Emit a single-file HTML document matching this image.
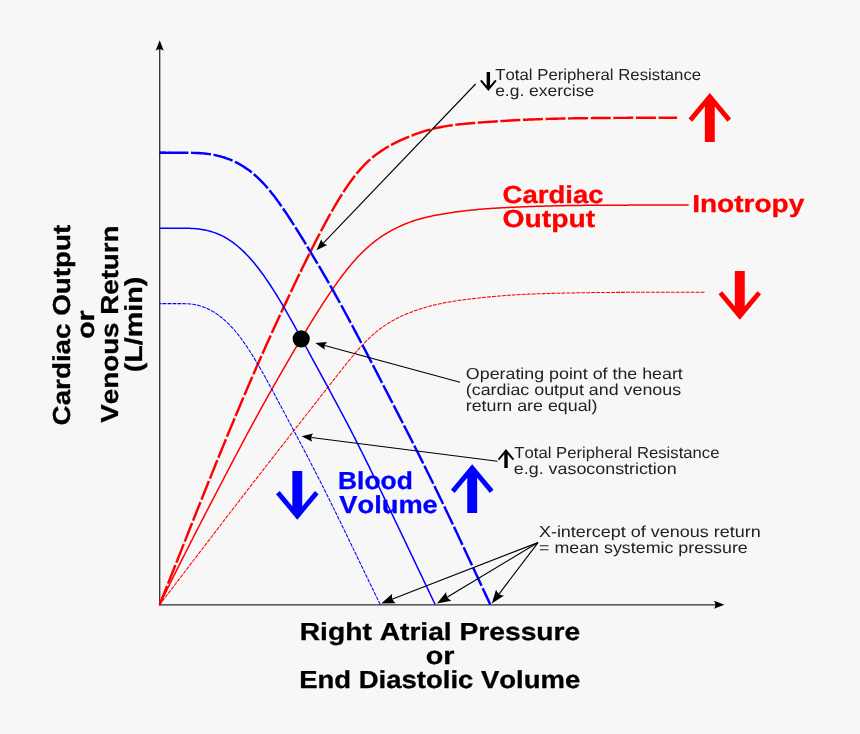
<!DOCTYPE html>
<html>
<head>
<meta charset="utf-8">
<title>Cardiac output and venous return curves</title>
<style>
html, body { margin: 0; padding: 0; background: #f7f7f7; }
body { width: 860px; height: 734px; overflow: hidden; }
svg { display: block; will-change: transform; }
svg text { font-family: "Liberation Sans", sans-serif; font-kerning: none; font-variant-ligatures: none; text-rendering: geometricPrecision; }
</style>
</head>
<body>
<svg width="860" height="734" viewBox="0 0 860 734">
<rect x="0" y="0" width="860" height="734" fill="#f7f7f7"/>
<path d="M159.7,605.45 L159.7,49" stroke="#2e2e2e" stroke-width="1.3" fill="none"/>
<path d="M159.05,604.8 L715.5,604.8" stroke="#2e2e2e" stroke-width="1.3" fill="none"/>
<path d="M159.7,40.2 L163.75,50.7 Q159.7,48 155.65,50.7 Z" fill="#000"/>
<path d="M724.4,604.8 L714.0,608.8 Q716.6,604.8 714.0,600.8 Z" fill="#000"/>
<path d="M159.70,604.60 L161.20,602.64 L162.70,600.68 L164.20,598.72 L165.70,596.76 L167.20,594.80 L168.70,592.84 L170.20,590.88 L171.70,588.92 L173.20,586.96 L174.70,585.00 L176.20,583.04 L177.70,581.08 L179.20,579.12 L180.70,577.16 L182.20,575.20 L183.70,573.24 L185.20,571.28 L186.70,569.32 L188.20,567.36 L189.70,565.40 L191.20,563.44 L192.70,561.48 L194.20,559.52 L195.70,557.56 L197.20,555.60 L198.70,553.64 L200.20,551.68 L201.70,549.72 L203.20,547.76 L204.70,545.80 L206.20,543.84 L207.70,541.88 L209.20,539.92 L210.70,537.96 L212.20,536.00 L213.70,534.04 L215.20,532.08 L216.70,530.12 L218.20,528.16 L219.70,526.21 L221.20,524.25 L222.70,522.29 L224.20,520.34 L225.70,518.38 L227.20,516.43 L228.70,514.48 L230.20,512.53 L231.70,510.57 L233.20,508.62 L234.70,506.67 L236.20,504.73 L237.70,502.78 L239.20,500.83 L240.70,498.89 L242.20,496.94 L243.70,495.00 L245.20,493.06 L246.70,491.12 L248.20,489.18 L249.70,487.24 L251.20,485.30 L252.70,483.37 L254.20,481.43 L255.70,479.50 L257.20,477.57 L258.70,475.64 L260.20,473.71 L261.70,471.78 L263.20,469.86 L264.70,467.93 L266.20,466.01 L267.70,464.08 L269.20,462.16 L270.70,460.24 L272.20,458.32 L273.70,456.40 L275.20,454.49 L276.70,452.57 L278.20,450.65 L279.70,448.74 L281.20,446.82 L282.70,444.91 L284.20,443.00 L285.70,441.08 L287.20,439.17 L288.70,437.25 L290.20,435.34 L291.70,433.43 L293.20,431.51 L294.70,429.60 L296.20,427.69 L297.70,425.77 L299.20,423.86 L300.70,421.95 L302.20,420.03 L303.70,418.12 L305.20,416.21 L306.70,414.29 L308.20,412.38 L309.70,410.46 L311.20,408.55 L312.70,406.64 L314.20,404.72 L315.70,402.81 L317.20,400.90 L318.70,398.98 L320.20,397.07 L321.70,395.16 L323.20,393.24 L324.70,391.33 L326.20,389.41 L327.70,387.50 L329.20,385.59 L330.70,383.67 L332.20,381.76 L333.70,379.85 L335.20,377.93 L336.70,376.02 L338.20,374.11 L339.70,372.21 L341.20,370.30 L342.70,368.41 L344.20,366.52 L345.70,364.64 L347.20,362.78 L348.70,360.92 L350.20,359.09 L351.70,357.26 L353.20,355.47 L354.70,353.69 L356.20,351.94 L357.70,350.22 L359.20,348.53 L360.70,346.87 L362.20,345.24 L363.70,343.65 L365.20,342.10 L366.70,340.59 L368.20,339.11 L369.70,337.67 L371.20,336.28 L372.70,334.94 L374.20,333.62 L375.70,332.35 L377.20,331.13 L378.70,329.94 L380.20,328.79 L381.70,327.68 L383.20,326.62 L384.70,325.58 L386.20,324.59 L387.70,323.62 L389.20,322.69 L390.70,321.80 L392.20,320.93 L393.70,320.09 L395.20,319.29 L396.70,318.51 L398.20,317.75 L399.70,317.01 L401.20,316.31 L402.70,315.62 L404.20,314.95 L405.70,314.31 L407.20,313.68 L408.70,313.08 L410.20,312.49 L411.70,311.91 L413.20,311.36 L414.70,310.82 L416.20,310.30 L417.70,309.79 L419.20,309.30 L420.70,308.82 L422.20,308.35 L423.70,307.90 L425.20,307.46 L426.70,307.04 L428.20,306.62 L429.70,306.22 L431.20,305.83 L432.70,305.45 L434.20,305.09 L435.70,304.73 L437.20,304.39 L438.70,304.06 L440.20,303.73 L441.70,303.42 L443.20,303.12 L444.70,302.83 L446.20,302.54 L447.70,302.27 L449.20,302.00 L450.70,301.74 L452.20,301.49 L453.70,301.25 L455.20,301.02 L456.70,300.79 L458.20,300.56 L459.70,300.35 L461.20,300.14 L462.70,299.93 L464.20,299.73 L465.70,299.53 L467.20,299.34 L468.70,299.16 L470.20,298.97 L471.70,298.79 L473.20,298.62 L474.70,298.44 L476.20,298.27 L477.70,298.10 L479.20,297.94 L480.70,297.78 L482.20,297.62 L483.70,297.46 L485.20,297.31 L486.70,297.15 L488.20,297.00 L489.70,296.86 L491.20,296.71 L492.70,296.57 L494.20,296.43 L495.70,296.30 L497.20,296.17 L498.70,296.04 L500.20,295.91 L501.70,295.79 L503.20,295.67 L504.70,295.55 L506.20,295.44 L507.70,295.33 L509.20,295.22 L510.70,295.12 L512.20,295.02 L513.70,294.92 L515.20,294.83 L516.70,294.74 L518.20,294.65 L519.70,294.57 L521.20,294.49 L522.70,294.41 L524.20,294.34 L525.70,294.26 L527.20,294.20 L528.70,294.13 L530.20,294.07 L531.70,294.01 L533.20,293.95 L534.70,293.90 L536.20,293.84 L537.70,293.79 L539.20,293.74 L540.70,293.70 L542.20,293.65 L543.70,293.61 L545.20,293.56 L546.70,293.52 L548.20,293.48 L549.70,293.44 L551.20,293.40 L552.70,293.37 L554.20,293.33 L555.70,293.29 L557.20,293.26 L558.70,293.22 L560.20,293.19 L561.70,293.16 L563.20,293.12 L564.70,293.09 L566.20,293.06 L567.70,293.03 L569.20,293.00 L570.70,292.97 L572.20,292.94 L573.70,292.91 L575.20,292.88 L576.70,292.85 L578.20,292.82 L579.70,292.80 L581.20,292.77 L582.70,292.75 L584.20,292.72 L585.70,292.70 L587.20,292.68 L588.70,292.65 L590.20,292.63 L591.70,292.61 L593.20,292.59 L594.70,292.57 L596.20,292.56 L597.70,292.54 L599.20,292.52 L600.70,292.51 L602.20,292.49 L603.70,292.48 L605.20,292.47 L606.70,292.45 L608.20,292.44 L609.70,292.43 L611.20,292.42 L612.70,292.41 L614.20,292.40 L615.70,292.39 L617.20,292.39 L618.70,292.38 L620.20,292.37 L621.70,292.37 L623.20,292.36 L624.70,292.35 L626.20,292.35 L627.70,292.34 L629.20,292.34 L630.70,292.33 L632.20,292.33 L633.70,292.32 L635.20,292.32 L636.70,292.31 L638.20,292.31 L639.70,292.31 L641.20,292.30 L642.70,292.30 L644.20,292.29 L645.70,292.29 L647.20,292.28 L648.70,292.28 L650.20,292.28 L651.70,292.27 L653.20,292.27 L654.70,292.26 L656.20,292.26 L657.70,292.25 L659.20,292.25 L660.70,292.25 L662.20,292.24 L663.70,292.24 L665.20,292.24 L666.70,292.23 L668.20,292.23 L669.70,292.22 L671.20,292.22 L672.70,292.22 L674.20,292.22 L675.70,292.21 L677.20,292.21 L678.70,292.21 L680.20,292.21 L681.70,292.21 L683.20,292.21 L684.70,292.20 L686.20,292.20 L687.70,292.20 L689.20,292.20 L690.70,292.20 L692.20,292.20 L693.70,292.20 L695.20,292.20 L696.70,292.20 L698.20,292.20 L699.70,292.20 L701.20,292.20 L702.70,292.20 L704.20,292.20 L704.50,292.20" fill="none" stroke="#ff0000" stroke-width="1.05" stroke-linejoin="round" stroke-dasharray="3.9,1.07" stroke-dashoffset="-4.14"/>
<path d="M159.70,604.60 L161.20,601.52 L162.70,598.46 L164.20,595.39 L165.70,592.34 L167.20,589.29 L168.70,586.25 L170.20,583.21 L171.70,580.18 L173.20,577.17 L174.70,574.15 L176.20,571.14 L177.70,568.14 L179.20,565.15 L180.70,562.16 L182.20,559.18 L183.70,556.21 L185.20,553.24 L186.70,550.28 L188.20,547.32 L189.70,544.37 L191.20,541.43 L192.70,538.49 L194.20,535.56 L195.70,532.63 L197.20,529.70 L198.70,526.78 L200.20,523.87 L201.70,520.96 L203.20,518.05 L204.70,515.15 L206.20,512.25 L207.70,509.35 L209.20,506.45 L210.70,503.56 L212.20,500.67 L213.70,497.78 L215.20,494.90 L216.70,492.01 L218.20,489.13 L219.70,486.25 L221.20,483.37 L222.70,480.50 L224.20,477.62 L225.70,474.75 L227.20,471.88 L228.70,469.02 L230.20,466.16 L231.70,463.30 L233.20,460.44 L234.70,457.59 L236.20,454.75 L237.70,451.91 L239.20,449.07 L240.70,446.24 L242.20,443.42 L243.70,440.60 L245.20,437.79 L246.70,434.99 L248.20,432.20 L249.70,429.41 L251.20,426.63 L252.70,423.86 L254.20,421.10 L255.70,418.34 L257.20,415.60 L258.70,412.86 L260.20,410.13 L261.70,407.41 L263.20,404.70 L264.70,402.00 L266.20,399.31 L267.70,396.62 L269.20,393.95 L270.70,391.28 L272.20,388.62 L273.70,385.97 L275.20,383.33 L276.70,380.69 L278.20,378.06 L279.70,375.44 L281.20,372.83 L282.70,370.23 L284.20,367.63 L285.70,365.04 L287.20,362.45 L288.70,359.88 L290.20,357.31 L291.70,354.74 L293.20,352.19 L294.70,349.64 L296.20,347.10 L297.70,344.56 L299.20,342.04 L300.70,339.52 L302.20,337.01 L303.70,334.51 L305.20,332.02 L306.70,329.54 L308.20,327.07 L309.70,324.61 L311.20,322.17 L312.70,319.74 L314.20,317.32 L315.70,314.91 L317.20,312.52 L318.70,310.15 L320.20,307.79 L321.70,305.45 L323.20,303.13 L324.70,300.83 L326.20,298.55 L327.70,296.28 L329.20,294.05 L330.70,291.84 L332.20,289.64 L333.70,287.47 L335.20,285.34 L336.70,283.22 L338.20,281.14 L339.70,279.08 L341.20,277.06 L342.70,275.06 L344.20,273.10 L345.70,271.17 L347.20,269.28 L348.70,267.43 L350.20,265.61 L351.70,263.82 L353.20,262.09 L354.70,260.39 L356.20,258.72 L357.70,257.09 L359.20,255.52 L360.70,253.98 L362.20,252.47 L363.70,251.00 L365.20,249.59 L366.70,248.21 L368.20,246.86 L369.70,245.55 L371.20,244.29 L372.70,243.07 L374.20,241.87 L375.70,240.71 L377.20,239.60 L378.70,238.51 L380.20,237.46 L381.70,236.43 L383.20,235.45 L384.70,234.49 L386.20,233.56 L387.70,232.66 L389.20,231.79 L390.70,230.94 L392.20,230.12 L393.70,229.32 L395.20,228.56 L396.70,227.82 L398.20,227.09 L399.70,226.39 L401.20,225.72 L402.70,225.06 L404.20,224.43 L405.70,223.81 L407.20,223.23 L408.70,222.66 L410.20,222.10 L411.70,221.57 L413.20,221.06 L414.70,220.56 L416.20,220.08 L417.70,219.62 L419.20,219.18 L420.70,218.75 L422.20,218.34 L423.70,217.94 L425.20,217.56 L426.70,217.19 L428.20,216.84 L429.70,216.49 L431.20,216.17 L432.70,215.85 L434.20,215.54 L435.70,215.24 L437.20,214.96 L438.70,214.68 L440.20,214.40 L441.70,214.14 L443.20,213.89 L444.70,213.64 L446.20,213.39 L447.70,213.16 L449.20,212.93 L450.70,212.70 L452.20,212.48 L453.70,212.27 L455.20,212.06 L456.70,211.86 L458.20,211.66 L459.70,211.46 L461.20,211.27 L462.70,211.09 L464.20,210.91 L465.70,210.73 L467.20,210.56 L468.70,210.39 L470.20,210.23 L471.70,210.08 L473.20,209.92 L474.70,209.78 L476.20,209.63 L477.70,209.49 L479.20,209.36 L480.70,209.23 L482.20,209.10 L483.70,208.98 L485.20,208.87 L486.70,208.75 L488.20,208.64 L489.70,208.53 L491.20,208.43 L492.70,208.33 L494.20,208.24 L495.70,208.14 L497.20,208.05 L498.70,207.96 L500.20,207.88 L501.70,207.80 L503.20,207.72 L504.70,207.64 L506.20,207.56 L507.70,207.49 L509.20,207.42 L510.70,207.35 L512.20,207.28 L513.70,207.21 L515.20,207.14 L516.70,207.08 L518.20,207.02 L519.70,206.96 L521.20,206.90 L522.70,206.84 L524.20,206.78 L525.70,206.72 L527.20,206.67 L528.70,206.61 L530.20,206.56 L531.70,206.51 L533.20,206.45 L534.70,206.40 L536.20,206.36 L537.70,206.31 L539.20,206.26 L540.70,206.21 L542.20,206.17 L543.70,206.13 L545.20,206.08 L546.70,206.04 L548.20,206.00 L549.70,205.96 L551.20,205.93 L552.70,205.89 L554.20,205.85 L555.70,205.82 L557.20,205.79 L558.70,205.76 L560.20,205.72 L561.70,205.70 L563.20,205.67 L564.70,205.64 L566.20,205.61 L567.70,205.59 L569.20,205.56 L570.70,205.54 L572.20,205.52 L573.70,205.50 L575.20,205.48 L576.70,205.46 L578.20,205.44 L579.70,205.42 L581.20,205.40 L582.70,205.38 L584.20,205.37 L585.70,205.35 L587.20,205.34 L588.70,205.33 L590.20,205.31 L591.70,205.30 L593.20,205.29 L594.70,205.28 L596.20,205.27 L597.70,205.25 L599.20,205.24 L600.70,205.23 L602.20,205.23 L603.70,205.22 L605.20,205.21 L606.70,205.20 L608.20,205.19 L609.70,205.19 L611.20,205.18 L612.70,205.17 L614.20,205.17 L615.70,205.16 L617.20,205.16 L618.70,205.15 L620.20,205.15 L621.70,205.14 L623.20,205.14 L624.70,205.13 L626.20,205.13 L627.70,205.13 L629.20,205.12 L630.70,205.12 L632.20,205.12 L633.70,205.11 L635.20,205.11 L636.70,205.11 L638.20,205.11 L639.70,205.11 L641.20,205.11 L642.70,205.10 L644.20,205.10 L645.70,205.10 L647.20,205.10 L648.70,205.10 L650.20,205.10 L651.70,205.10 L653.20,205.10 L654.70,205.10 L656.20,205.10 L657.70,205.10 L659.20,205.10 L660.70,205.10 L662.20,205.10 L663.70,205.10 L665.20,205.10 L666.70,205.10 L668.20,205.10 L669.70,205.10 L671.20,205.10 L672.70,205.10 L674.20,205.10 L675.70,205.10 L677.20,205.10 L678.70,205.10 L680.20,205.10 L681.70,205.10 L683.20,205.10 L684.70,205.10 L686.20,205.10 L687.70,205.10 L688.70,205.10" fill="none" stroke="#ff0000" stroke-width="1.5" stroke-linejoin="round"/>
<path d="M159.70,604.60 L161.20,600.82 L162.70,597.04 L164.20,593.26 L165.70,589.48 L167.20,585.70 L168.70,581.92 L170.20,578.14 L171.70,574.36 L173.20,570.58 L174.70,566.80 L176.20,563.02 L177.70,559.24 L179.20,555.46 L180.70,551.68 L182.20,547.91 L183.70,544.13 L185.20,540.35 L186.70,536.58 L188.20,532.80 L189.70,529.03 L191.20,525.26 L192.70,521.50 L194.20,517.73 L195.70,513.97 L197.20,510.22 L198.70,506.46 L200.20,502.71 L201.70,498.97 L203.20,495.22 L204.70,491.49 L206.20,487.76 L207.70,484.03 L209.20,480.31 L210.70,476.59 L212.20,472.88 L213.70,469.17 L215.20,465.48 L216.70,461.78 L218.20,458.10 L219.70,454.42 L221.20,450.75 L222.70,447.09 L224.20,443.43 L225.70,439.79 L227.20,436.15 L228.70,432.52 L230.20,428.90 L231.70,425.29 L233.20,421.69 L234.70,418.11 L236.20,414.53 L237.70,410.95 L239.20,407.40 L240.70,403.85 L242.20,400.32 L243.70,396.79 L245.20,393.28 L246.70,389.78 L248.20,386.29 L249.70,382.81 L251.20,379.35 L252.70,375.89 L254.20,372.45 L255.70,369.02 L257.20,365.61 L258.70,362.21 L260.20,358.82 L261.70,355.44 L263.20,352.07 L264.70,348.72 L266.20,345.37 L267.70,342.04 L269.20,338.72 L270.70,335.41 L272.20,332.11 L273.70,328.82 L275.20,325.54 L276.70,322.27 L278.20,319.01 L279.70,315.76 L281.20,312.53 L282.70,309.30 L284.20,306.08 L285.70,302.87 L287.20,299.67 L288.70,296.48 L290.20,293.30 L291.70,290.14 L293.20,286.98 L294.70,283.84 L296.20,280.71 L297.70,277.58 L299.20,274.48 L300.70,271.39 L302.20,268.31 L303.70,265.24 L305.20,262.19 L306.70,259.16 L308.20,256.14 L309.70,253.13 L311.20,250.15 L312.70,247.18 L314.20,244.23 L315.70,241.30 L317.20,238.39 L318.70,235.50 L320.20,232.63 L321.70,229.78 L323.20,226.96 L324.70,224.17 L326.20,221.40 L327.70,218.65 L329.20,215.95 L330.70,213.27 L332.20,210.62 L333.70,208.00 L335.20,205.43 L336.70,202.89 L338.20,200.39 L339.70,197.92 L341.20,195.51 L342.70,193.14 L344.20,190.82 L345.70,188.54 L347.20,186.33 L348.70,184.16 L350.20,182.05 L351.70,179.98 L353.20,177.99 L354.70,176.05 L356.20,174.17 L357.70,172.33 L359.20,170.58 L360.70,168.88 L362.20,167.23 L363.70,165.64 L365.20,164.12 L366.70,162.65 L368.20,161.22 L369.70,159.85 L371.20,158.55 L372.70,157.29 L374.20,156.07 L375.70,154.89 L377.20,153.77 L378.70,152.69 L380.20,151.64 L381.70,150.63 L383.20,149.66 L384.70,148.73 L386.20,147.81 L387.70,146.93 L389.20,146.08 L390.70,145.25 L392.20,144.45 L393.70,143.66 L395.20,142.90 L396.70,142.16 L398.20,141.44 L399.70,140.73 L401.20,140.04 L402.70,139.36 L404.20,138.70 L405.70,138.05 L407.20,137.42 L408.70,136.81 L410.20,136.20 L411.70,135.61 L413.20,135.04 L414.70,134.47 L416.20,133.93 L417.70,133.39 L419.20,132.88 L420.70,132.37 L422.20,131.88 L423.70,131.41 L425.20,130.95 L426.70,130.51 L428.20,130.09 L429.70,129.67 L431.20,129.28 L432.70,128.90 L434.20,128.54 L435.70,128.18 L437.20,127.85 L438.70,127.53 L440.20,127.22 L441.70,126.93 L443.20,126.65 L444.70,126.39 L446.20,126.13 L447.70,125.89 L449.20,125.66 L450.70,125.44 L452.20,125.23 L453.70,125.03 L455.20,124.84 L456.70,124.65 L458.20,124.48 L459.70,124.31 L461.20,124.15 L462.70,124.00 L464.20,123.85 L465.70,123.70 L467.20,123.57 L468.70,123.43 L470.20,123.30 L471.70,123.18 L473.20,123.05 L474.70,122.93 L476.20,122.81 L477.70,122.70 L479.20,122.58 L480.70,122.47 L482.20,122.36 L483.70,122.25 L485.20,122.15 L486.70,122.04 L488.20,121.93 L489.70,121.83 L491.20,121.73 L492.70,121.62 L494.20,121.52 L495.70,121.42 L497.20,121.33 L498.70,121.23 L500.20,121.13 L501.70,121.04 L503.20,120.94 L504.70,120.85 L506.20,120.76 L507.70,120.67 L509.20,120.58 L510.70,120.49 L512.20,120.41 L513.70,120.33 L515.20,120.24 L516.70,120.16 L518.20,120.09 L519.70,120.01 L521.20,119.94 L522.70,119.86 L524.20,119.79 L525.70,119.72 L527.20,119.66 L528.70,119.59 L530.20,119.53 L531.70,119.47 L533.20,119.41 L534.70,119.35 L536.20,119.29 L537.70,119.24 L539.20,119.19 L540.70,119.13 L542.20,119.08 L543.70,119.04 L545.20,118.99 L546.70,118.95 L548.20,118.90 L549.70,118.86 L551.20,118.82 L552.70,118.78 L554.20,118.74 L555.70,118.70 L557.20,118.67 L558.70,118.63 L560.20,118.60 L561.70,118.57 L563.20,118.54 L564.70,118.51 L566.20,118.48 L567.70,118.45 L569.20,118.42 L570.70,118.40 L572.20,118.37 L573.70,118.34 L575.20,118.32 L576.70,118.30 L578.20,118.27 L579.70,118.25 L581.20,118.23 L582.70,118.21 L584.20,118.19 L585.70,118.17 L587.20,118.15 L588.70,118.14 L590.20,118.12 L591.70,118.10 L593.20,118.09 L594.70,118.07 L596.20,118.05 L597.70,118.04 L599.20,118.03 L600.70,118.01 L602.20,118.00 L603.70,117.99 L605.20,117.97 L606.70,117.96 L608.20,117.95 L609.70,117.94 L611.20,117.93 L612.70,117.92 L614.20,117.91 L615.70,117.90 L617.20,117.89 L618.70,117.88 L620.20,117.87 L621.70,117.87 L623.20,117.86 L624.70,117.85 L626.20,117.85 L627.70,117.84 L629.20,117.84 L630.70,117.83 L632.20,117.83 L633.70,117.82 L635.20,117.82 L636.70,117.82 L638.20,117.81 L639.70,117.81 L641.20,117.81 L642.70,117.81 L644.20,117.81 L645.70,117.80 L647.20,117.80 L648.70,117.80 L650.20,117.80 L651.70,117.80 L653.20,117.80 L654.70,117.80 L656.20,117.80 L657.70,117.80 L659.20,117.80 L660.70,117.80 L662.20,117.80 L663.70,117.80 L665.20,117.80 L666.70,117.80 L668.20,117.80 L669.70,117.80 L671.20,117.80 L672.70,117.80 L674.20,117.80 L675.70,117.80 L677.10,117.80" fill="none" stroke="#ff0000" stroke-width="2.45" stroke-linejoin="round" stroke-dasharray="20.0,2.6" stroke-dashoffset="-0.00"/>
<path d="M159.70,303.60 L161.20,303.60 L162.70,303.60 L164.20,303.60 L165.70,303.60 L167.20,303.60 L168.70,303.60 L170.20,303.60 L171.70,303.60 L173.20,303.60 L174.70,303.60 L176.20,303.60 L177.70,303.60 L179.20,303.60 L180.70,303.60 L182.20,303.60 L183.70,303.62 L185.20,303.66 L186.70,303.72 L188.20,303.80 L189.70,303.92 L191.20,304.08 L192.70,304.28 L194.20,304.51 L195.70,304.79 L197.20,305.12 L198.70,305.50 L200.20,305.91 L201.70,306.37 L203.20,306.90 L204.70,307.47 L206.20,308.09 L207.70,308.75 L209.20,309.49 L210.70,310.27 L212.20,311.10 L213.70,311.97 L215.20,312.93 L216.70,313.93 L218.20,314.98 L219.70,316.08 L221.20,317.26 L222.70,318.49 L224.20,319.77 L225.70,321.11 L227.20,322.53 L228.70,324.00 L230.20,325.53 L231.70,327.12 L233.20,328.78 L234.70,330.50 L236.20,332.28 L237.70,334.11 L239.20,336.02 L240.70,337.99 L242.20,340.01 L243.70,342.08 L245.20,344.23 L246.70,346.42 L248.20,348.67 L249.70,350.96 L251.20,353.31 L252.70,355.71 L254.20,358.15 L255.70,360.63 L257.20,363.16 L258.70,365.72 L260.20,368.32 L261.70,370.94 L263.20,373.60 L264.70,376.29 L266.20,379.00 L267.70,381.72 L269.20,384.47 L270.70,387.24 L272.20,390.01 L273.70,392.80 L275.20,395.60 L276.70,398.41 L278.20,401.22 L279.70,404.04 L281.20,406.86 L282.70,409.69 L284.20,412.51 L285.70,415.34 L287.20,418.17 L288.70,420.99 L290.20,423.82 L291.70,426.65 L293.20,429.48 L294.70,432.31 L296.20,435.15 L297.70,437.98 L299.20,440.83 L300.70,443.67 L302.20,446.52 L303.70,449.37 L305.20,452.24 L306.70,455.11 L308.20,457.99 L309.70,460.87 L311.20,463.77 L312.70,466.67 L314.20,469.59 L315.70,472.51 L317.20,475.45 L318.70,478.39 L320.20,481.35 L321.70,484.32 L323.20,487.30 L324.70,490.29 L326.20,493.30 L327.70,496.31 L329.20,499.33 L330.70,502.37 L332.20,505.41 L333.70,508.46 L335.20,511.52 L336.70,514.59 L338.20,517.66 L339.70,520.74 L341.20,523.83 L342.70,526.92 L344.20,530.01 L345.70,533.11 L347.20,536.21 L348.70,539.31 L350.20,542.41 L351.70,545.52 L353.20,548.62 L354.70,551.73 L356.20,554.84 L357.70,557.94 L359.20,561.05 L360.70,564.16 L362.20,567.26 L363.70,570.37 L365.20,573.48 L366.70,576.58 L368.20,579.69 L369.70,582.80 L371.20,585.91 L372.70,589.02 L374.20,592.14 L375.70,595.25 L377.20,598.36 L378.70,601.48 L380.20,604.60" fill="none" stroke="#0000ff" stroke-width="1.05" stroke-linejoin="round" stroke-dasharray="3.9,1.07" stroke-dashoffset="-2.85"/>
<path d="M159.70,228.20 L161.20,228.20 L162.70,228.20 L164.20,228.20 L165.70,228.20 L167.20,228.20 L168.70,228.20 L170.20,228.20 L171.70,228.20 L173.20,228.20 L174.70,228.20 L176.20,228.20 L177.70,228.20 L179.20,228.20 L180.70,228.20 L182.20,228.20 L183.70,228.21 L185.20,228.22 L186.70,228.24 L188.20,228.28 L189.70,228.32 L191.20,228.39 L192.70,228.47 L194.20,228.57 L195.70,228.69 L197.20,228.84 L198.70,229.01 L200.20,229.20 L201.70,229.42 L203.20,229.68 L204.70,229.96 L206.20,230.27 L207.70,230.62 L209.20,231.00 L210.70,231.42 L212.20,231.87 L213.70,232.36 L215.20,232.89 L216.70,233.47 L218.20,234.08 L219.70,234.72 L221.20,235.43 L222.70,236.17 L224.20,236.96 L225.70,237.78 L227.20,238.67 L228.70,239.61 L230.20,240.58 L231.70,241.60 L233.20,242.69 L234.70,243.82 L236.20,244.99 L237.70,246.21 L239.20,247.50 L240.70,248.83 L242.20,250.21 L243.70,251.64 L245.20,253.13 L246.70,254.67 L248.20,256.25 L249.70,257.88 L251.20,259.58 L252.70,261.31 L254.20,263.10 L255.70,264.92 L257.20,266.81 L258.70,268.74 L260.20,270.71 L261.70,272.73 L263.20,274.80 L264.70,276.91 L266.20,279.06 L267.70,281.25 L269.20,283.49 L270.70,285.77 L272.20,288.08 L273.70,290.43 L275.20,292.82 L276.70,295.24 L278.20,297.69 L279.70,300.17 L281.20,302.69 L282.70,305.24 L284.20,307.80 L285.70,310.39 L287.20,313.01 L288.70,315.65 L290.20,318.30 L291.70,320.97 L293.20,323.66 L294.70,326.36 L296.20,329.07 L297.70,331.79 L299.20,334.52 L300.70,337.25 L302.20,340.00 L303.70,342.74 L305.20,345.50 L306.70,348.25 L308.20,351.01 L309.70,353.77 L311.20,356.53 L312.70,359.29 L314.20,362.05 L315.70,364.81 L317.20,367.57 L318.70,370.34 L320.20,373.10 L321.70,375.87 L323.20,378.63 L324.70,381.40 L326.20,384.17 L327.70,386.94 L329.20,389.72 L330.70,392.49 L332.20,395.28 L333.70,398.06 L335.20,400.85 L336.70,403.65 L338.20,406.46 L339.70,409.27 L341.20,412.09 L342.70,414.92 L344.20,417.76 L345.70,420.60 L347.20,423.47 L348.70,426.34 L350.20,429.22 L351.70,432.12 L353.20,435.03 L354.70,437.96 L356.20,440.89 L357.70,443.84 L359.20,446.81 L360.70,449.79 L362.20,452.78 L363.70,455.78 L365.20,458.80 L366.70,461.83 L368.20,464.87 L369.70,467.92 L371.20,470.98 L372.70,474.05 L374.20,477.13 L375.70,480.21 L377.20,483.30 L378.70,486.40 L380.20,489.50 L381.70,492.61 L383.20,495.72 L384.70,498.83 L386.20,501.95 L387.70,505.07 L389.20,508.20 L390.70,511.32 L392.20,514.45 L393.70,517.58 L395.20,520.71 L396.70,523.85 L398.20,526.99 L399.70,530.12 L401.20,533.26 L402.70,536.40 L404.20,539.54 L405.70,542.68 L407.20,545.83 L408.70,548.97 L410.20,552.12 L411.70,555.26 L413.20,558.41 L414.70,561.56 L416.20,564.71 L417.70,567.85 L419.20,571.00 L420.70,574.15 L422.20,577.30 L423.70,580.45 L425.20,583.60 L426.70,586.75 L428.20,589.90 L429.70,593.05 L431.20,596.20 L432.70,599.35 L434.20,602.50 L435.20,604.60" fill="none" stroke="#0000ff" stroke-width="1.5" stroke-linejoin="round"/>
<path d="M159.70,152.80 L161.20,152.80 L162.70,152.80 L164.20,152.80 L165.70,152.80 L167.20,152.80 L168.70,152.80 L170.20,152.80 L171.70,152.80 L173.20,152.80 L174.70,152.80 L176.20,152.80 L177.70,152.80 L179.20,152.80 L180.70,152.80 L182.20,152.80 L183.70,152.80 L185.20,152.80 L186.70,152.81 L188.20,152.81 L189.70,152.82 L191.20,152.84 L192.70,152.87 L194.20,152.90 L195.70,152.95 L197.20,153.01 L198.70,153.08 L200.20,153.17 L201.70,153.27 L203.20,153.40 L204.70,153.54 L206.20,153.70 L207.70,153.88 L209.20,154.09 L210.70,154.32 L212.20,154.58 L213.70,154.85 L215.20,155.16 L216.70,155.49 L218.20,155.84 L219.70,156.22 L221.20,156.64 L222.70,157.08 L224.20,157.54 L225.70,158.03 L227.20,158.57 L228.70,159.13 L230.20,159.71 L231.70,160.33 L233.20,161.00 L234.70,161.69 L236.20,162.42 L237.70,163.18 L239.20,164.00 L240.70,164.85 L242.20,165.73 L243.70,166.66 L245.20,167.64 L246.70,168.66 L248.20,169.73 L249.70,170.84 L251.20,172.01 L252.70,173.22 L254.20,174.49 L255.70,175.79 L257.20,177.17 L258.70,178.59 L260.20,180.06 L261.70,181.57 L263.20,183.16 L264.70,184.79 L266.20,186.46 L267.70,188.18 L269.20,189.97 L270.70,191.81 L272.20,193.68 L273.70,195.59 L275.20,197.57 L276.70,199.58 L278.20,201.63 L279.70,203.71 L281.20,205.85 L282.70,208.01 L284.20,210.20 L285.70,212.42 L287.20,214.67 L288.70,216.95 L290.20,219.25 L291.70,221.56 L293.20,223.91 L294.70,226.27 L296.20,228.64 L297.70,231.02 L299.20,233.43 L300.70,235.84 L302.20,238.26 L303.70,240.70 L305.20,243.14 L306.70,245.60 L308.20,248.06 L309.70,250.54 L311.20,253.02 L312.70,255.52 L314.20,258.02 L315.70,260.53 L317.20,263.06 L318.70,265.60 L320.20,268.15 L321.70,270.71 L323.20,273.28 L324.70,275.87 L326.20,278.47 L327.70,281.08 L329.20,283.71 L330.70,286.35 L332.20,289.00 L333.70,291.67 L335.20,294.35 L336.70,297.05 L338.20,299.76 L339.70,302.48 L341.20,305.21 L342.70,307.96 L344.20,310.72 L345.70,313.48 L347.20,316.26 L348.70,319.06 L350.20,321.85 L351.70,324.66 L353.20,327.48 L354.70,330.31 L356.20,333.15 L357.70,335.99 L359.20,338.84 L360.70,341.70 L362.20,344.56 L363.70,347.43 L365.20,350.30 L366.70,353.18 L368.20,356.06 L369.70,358.95 L371.20,361.84 L372.70,364.73 L374.20,367.62 L375.70,370.52 L377.20,373.42 L378.70,376.32 L380.20,379.23 L381.70,382.13 L383.20,385.04 L384.70,387.94 L386.20,390.85 L387.70,393.76 L389.20,396.67 L390.70,399.58 L392.20,402.49 L393.70,405.41 L395.20,408.32 L396.70,411.24 L398.20,414.16 L399.70,417.08 L401.20,420.00 L402.70,422.93 L404.20,425.86 L405.70,428.79 L407.20,431.73 L408.70,434.67 L410.20,437.61 L411.70,440.56 L413.20,443.52 L414.70,446.48 L416.20,449.45 L417.70,452.42 L419.20,455.41 L420.70,458.39 L422.20,461.39 L423.70,464.39 L425.20,467.40 L426.70,470.42 L428.20,473.45 L429.70,476.48 L431.20,479.53 L432.70,482.58 L434.20,485.64 L435.70,488.71 L437.20,491.79 L438.70,494.88 L440.20,497.98 L441.70,501.08 L443.20,504.20 L444.70,507.32 L446.20,510.45 L447.70,513.58 L449.20,516.73 L450.70,519.88 L452.20,523.04 L453.70,526.21 L455.20,529.38 L456.70,532.56 L458.20,535.75 L459.70,538.94 L461.20,542.13 L462.70,545.34 L464.20,548.54 L465.70,551.75 L467.20,554.96 L468.70,558.18 L470.20,561.40 L471.70,564.62 L473.20,567.84 L474.70,571.06 L476.20,574.29 L477.70,577.51 L479.20,580.73 L480.70,583.96 L482.20,587.18 L483.70,590.41 L485.20,593.63 L486.70,596.86 L488.20,600.08 L489.70,603.31 L490.30,604.60" fill="none" stroke="#0000ff" stroke-width="2.45" stroke-linejoin="round" stroke-dasharray="20.0,2.6" stroke-dashoffset="-8.70"/>
<path d="M159.7,152.8 L169.5,152.8" stroke="#0000ff" stroke-width="2.45" fill="none"/>
<circle cx="301.2" cy="338.8" r="8.6" fill="#000"/>
<path d="M475.60,84.00 L323.31,243.18" stroke="#000" stroke-width="1.1" fill="none"/><path d="M316.50,250.30 L321.24,239.37 C321.79,242.36 324.20,244.66 327.21,245.08 Z" fill="#000"/>
<path d="M460.00,382.30 L324.71,345.56" stroke="#000" stroke-width="1.1" fill="none"/><path d="M315.30,343.00 L327.04,341.96 C324.70,343.85 323.84,347.02 324.90,349.84 Z" fill="#000"/>
<path d="M497.50,461.20 L311.38,437.54" stroke="#000" stroke-width="1.1" fill="none"/><path d="M301.60,436.30 L313.21,433.61 C311.13,435.83 310.71,439.14 312.17,441.81 Z" fill="#000"/>
<path d="M538.00,542.60 L392.57,598.99" stroke="#000" stroke-width="1.15" fill="none"/><path d="M381.20,603.40 L392.24,593.64 C391.29,597.28 392.77,601.12 395.93,603.16 Z" fill="#000"/>
<path d="M538.00,542.60 L447.44,597.11" stroke="#000" stroke-width="1.15" fill="none"/><path d="M437.00,603.40 L446.21,591.90 C445.89,595.65 448.01,599.17 451.48,600.65 Z" fill="#000"/>
<path d="M538.00,542.60 L499.17,593.79" stroke="#000" stroke-width="1.15" fill="none"/><path d="M491.80,603.50 L496.09,589.40 C497.18,593.00 500.46,595.49 504.22,595.57 Z" fill="#000"/>
<path d="M709.80,93.00 L731.10,118.50 L727.40,121.70 L714.75,106.50 L714.75,141.90 L704.85,141.90 L704.85,106.50 L692.20,121.70 L688.50,118.50 Z" fill="#ff0000"/>
<path d="M739.80,319.80 L761.10,294.35 L757.40,291.16 L744.75,306.33 L744.75,271.00 L734.85,271.00 L734.85,306.33 L722.20,291.16 L718.50,294.35 Z" fill="#ff0000"/>
<path d="M472.20,464.30 L493.50,489.70 L489.80,492.88 L477.15,477.74 L477.15,513.00 L467.25,513.00 L467.25,477.74 L454.60,492.88 L450.90,489.70 Z" fill="#0000ff"/>
<path d="M297.30,519.70 L318.60,494.30 L314.90,491.12 L302.25,506.26 L302.25,471.00 L292.35,471.00 L292.35,506.26 L279.70,491.12 L276.00,494.30 Z" fill="#0000ff"/>
<path d="M488.35,90.90 L496.59,81.10 L495.16,79.87 L490.05,85.71 L490.05,72.10 L486.65,72.10 L486.65,85.71 L481.54,79.87 L480.11,81.10 Z" fill="#000"/>
<path d="M506.00,449.10 L514.19,458.90 L512.77,460.13 L507.70,454.29 L507.70,467.90 L504.30,467.90 L504.30,454.29 L499.23,460.13 L497.81,458.90 Z" fill="#000"/>
<text transform="translate(495.32,79.5) scale(1.0543,1)" font-size="15.9" fill="#222">Total Peripheral Resistance</text>
<text transform="translate(495.16,95.5) scale(1.0984,1)" font-size="15.9" fill="#222">e.g. exercise</text>
<text transform="translate(465.86,378.6) scale(1.1214,1)" font-size="15.9" fill="#222">Operating point of the heart</text>
<text transform="translate(465.79,394.6) scale(1.1233,1)" font-size="15.9" fill="#222">(cardiac output and venous</text>
<text transform="translate(465.72,410.7) scale(1.1211,1)" font-size="15.9" fill="#222">return are equal)</text>
<text transform="translate(514.32,458.2) scale(1.0512,1)" font-size="15.9" fill="#222">Total Peripheral Resistance</text>
<text transform="translate(513.84,474.4) scale(1.1241,1)" font-size="15.9" fill="#222">e.g. vasoconstriction</text>
<text transform="translate(538.90,536.5) scale(1.1313,1)" font-size="15.9" fill="#222">X-intercept of venous return</text>
<text transform="translate(539.03,552.7) scale(1.1229,1)" font-size="15.9" fill="#222">= mean systemic pressure</text>
<text transform="translate(502.62,202.8) scale(1.1196,1)" font-size="24.6" fill="#ff0000" font-weight="bold" stroke="#ff0000" stroke-width="0.3" stroke-linejoin="round">Cardiac</text>
<text transform="translate(502.59,226.8) scale(1.1490,1)" font-size="24.6" fill="#ff0000" font-weight="bold" stroke="#ff0000" stroke-width="0.3" stroke-linejoin="round">Output</text>
<text transform="translate(692.17,211.7) scale(1.1396,1)" font-size="24.6" fill="#ff0000" font-weight="bold" stroke="#ff0000" stroke-width="0.3" stroke-linejoin="round">Inotropy</text>
<text transform="translate(337.98,489.0) scale(1.0736,1)" font-size="24.6" fill="#0000ff" font-weight="bold" stroke="#0000ff" stroke-width="0.3" stroke-linejoin="round">Blood</text>
<text transform="translate(339.36,512.7) scale(1.1077,1)" font-size="24.6" fill="#0000ff" font-weight="bold" stroke="#0000ff" stroke-width="0.3" stroke-linejoin="round">Volume</text>
<text transform="translate(299.76,640.0) scale(1.1465,1)" font-size="24.6" fill="#000" font-weight="bold" stroke="#000" stroke-width="0.3" stroke-linejoin="round">Right Atrial Pressure</text>
<text transform="translate(425.83,663.6) scale(1.1648,1)" font-size="24.6" fill="#000" font-weight="bold" stroke="#000" stroke-width="0.3" stroke-linejoin="round">or</text>
<text transform="translate(299.21,687.6) scale(1.1175,1)" font-size="24.6" fill="#000" font-weight="bold" stroke="#000" stroke-width="0.3" stroke-linejoin="round">End Diastolic Volume</text>
<text transform="translate(70.3,425.39) rotate(-90) scale(1.1295,1)" font-size="24.6" fill="#000" font-weight="bold" stroke="#000" stroke-width="0.3" stroke-linejoin="round">Cardiac Output</text>
<text transform="translate(94.2,338.86) rotate(-90) scale(1.1562,1)" font-size="24.6" fill="#000" font-weight="bold" stroke="#000" stroke-width="0.3" stroke-linejoin="round">or</text>
<text transform="translate(118.3,422.64) rotate(-90) scale(1.1272,1)" font-size="24.6" fill="#000" font-weight="bold" stroke="#000" stroke-width="0.3" stroke-linejoin="round">Venous Return</text>
<text transform="translate(142.3,372.28) rotate(-90) scale(1.1656,1)" font-size="24.6" fill="#000" font-weight="bold" stroke="#000" stroke-width="0.3" stroke-linejoin="round">(L/min)</text>
</svg>
</body>
</html>
